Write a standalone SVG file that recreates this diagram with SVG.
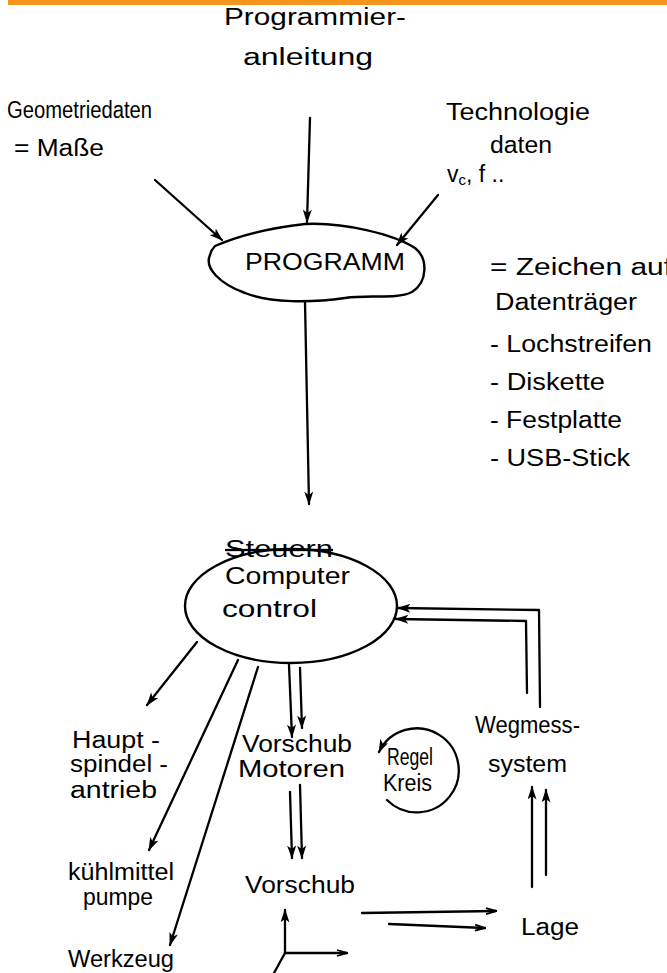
<svg xmlns="http://www.w3.org/2000/svg" width="667" height="973" viewBox="0 0 667 973">
<style>
text{font-family:"Liberation Sans","DejaVu Sans",sans-serif;fill:#000;font-size:23px}
.ln{fill:none;stroke:#000;stroke-width:2.3;stroke-linecap:round;stroke-linejoin:round}
.shape{fill:none;stroke:#000;stroke-width:2.4}
</style>
<defs>
<marker id="ah" viewBox="0 0 12 8" refX="11" refY="4" markerWidth="14" markerHeight="9" markerUnits="userSpaceOnUse" orient="auto">
<path d="M0,0 L12,4 L0,8 L3,4 z" fill="#000"/>
</marker>
<marker id="ao" viewBox="0 0 12 8" refX="11" refY="4" markerWidth="12" markerHeight="8" markerUnits="userSpaceOnUse" orient="auto">
<path d="M1,1 L11,4 L1,7" fill="none" stroke="#000" stroke-width="1.8"/>
</marker>
</defs>
<rect x="8" y="0" width="659" height="5" fill="#F7961E"/>
<g id="programmieranleitung">
<text x="224" y="25" textLength="182" lengthAdjust="spacingAndGlyphs" font-size="25">Programmier-</text>
<text x="243" y="65" textLength="130" lengthAdjust="spacingAndGlyphs" font-size="25">anleitung</text>
</g>
<g id="geometriedaten">
<text x="7" y="118" textLength="145" lengthAdjust="spacingAndGlyphs">Geometriedaten</text>
<text x="14" y="156" textLength="90" lengthAdjust="spacingAndGlyphs">= Maße</text>
</g>
<g id="technologiedaten">
<text x="446" y="120" textLength="144" lengthAdjust="spacingAndGlyphs">Technologie</text>
<text x="490" y="153" textLength="62" lengthAdjust="spacingAndGlyphs">daten</text>
<text x="447" y="182">v<tspan font-size="15" dy="3">c</tspan><tspan dy="-3">, f ..</tspan></text>
</g>
<g id="programm">
<path class="shape" d="M215,246 C240,235 270,228 305,224 C345,222 395,235 415,248 C428,258 428,282 412,292 C395,300 370,294 345,298 C310,303 270,303 245,293 C220,284 204,268 210,255 C211,251 213,248 215,246 Z"/>
<text x="245" y="270" textLength="160" lengthAdjust="spacingAndGlyphs" font-size="27">PROGRAMM</text>
</g>
<g id="datentraeger">
<text x="490" y="275" textLength="182" lengthAdjust="spacingAndGlyphs">= Zeichen auf</text>
<text x="495" y="310" textLength="142" lengthAdjust="spacingAndGlyphs">Datenträger</text>
<text x="490" y="352" textLength="162" lengthAdjust="spacingAndGlyphs">- Lochstreifen</text>
<text x="490" y="390" textLength="115" lengthAdjust="spacingAndGlyphs">- Diskette</text>
<text x="490" y="428" textLength="132" lengthAdjust="spacingAndGlyphs">- Festplatte</text>
<text x="490" y="466" textLength="140" lengthAdjust="spacingAndGlyphs">- USB-Stick</text>
</g>
<g id="computer-control">
<ellipse class="shape" cx="291" cy="606" rx="106" ry="57"/>
<text x="225" y="557" textLength="108" lengthAdjust="spacingAndGlyphs" text-decoration="line-through">Steuern</text>
<text x="225" y="584" textLength="125" lengthAdjust="spacingAndGlyphs" font-size="25">Computer</text>
<text x="222" y="617" textLength="95" lengthAdjust="spacingAndGlyphs" font-size="25">control</text>
</g>
<g id="hauptspindelantrieb">
<text x="72" y="748" textLength="88" lengthAdjust="spacingAndGlyphs" font-size="21">Haupt -</text>
<text x="70" y="772" textLength="98" lengthAdjust="spacingAndGlyphs" font-size="21">spindel -</text>
<text x="70" y="798" textLength="87" lengthAdjust="spacingAndGlyphs" font-size="21">antrieb</text>
</g>
<g id="kuehlmittelpumpe">
<text x="68" y="880" textLength="106" lengthAdjust="spacingAndGlyphs" font-size="20">kühlmittel</text>
<text x="83" y="905" textLength="70" lengthAdjust="spacingAndGlyphs" font-size="20">pumpe</text>
</g>
<g id="werkzeug">
<text x="68" y="967" textLength="106" lengthAdjust="spacingAndGlyphs" font-size="21">Werkzeug</text>
</g>
<g id="vorschubmotoren">
<text x="242" y="752" textLength="110" lengthAdjust="spacingAndGlyphs">Vorschub</text>
<text x="238" y="777" textLength="107" lengthAdjust="spacingAndGlyphs">Motoren</text>
</g>
<g id="regelkreis">
<path class="ln" d="M387,800 A42,42 0 1 0 379,752" marker-end="url(#ah)"/>
<text x="387" y="765" textLength="46" lengthAdjust="spacingAndGlyphs" font-size="18">Regel</text>
<text x="383" y="791" textLength="49" lengthAdjust="spacingAndGlyphs" font-size="18">Kreis</text>
</g>
<g id="wegmesssystem">
<text x="475" y="733" textLength="105" lengthAdjust="spacingAndGlyphs">Wegmess-</text>
<text x="488" y="772" textLength="79" lengthAdjust="spacingAndGlyphs">system</text>
</g>
<g id="vorschub">
<text x="245" y="893" textLength="110" lengthAdjust="spacingAndGlyphs">Vorschub</text>
</g>
<g id="lage">
<text x="521" y="935" textLength="58" lengthAdjust="spacingAndGlyphs" font-size="29">Lage</text>
</g>
<g id="connectors">
<line class="ln" x1="155" y1="180" x2="222" y2="240" marker-end="url(#ah)"/>
<line class="ln" x1="310" y1="118" x2="307" y2="222" marker-end="url(#ah)"/>
<line class="ln" x1="438" y1="195" x2="397" y2="245" marker-end="url(#ah)"/>
<line class="ln" x1="305" y1="302" x2="309" y2="504" marker-end="url(#ah)"/>
<line class="ln" x1="197" y1="642" x2="147" y2="705" marker-end="url(#ah)"/>
<line class="ln" x1="238" y1="660" x2="149" y2="850" marker-end="url(#ah)"/>
<line class="ln" x1="258" y1="667" x2="170" y2="945" marker-end="url(#ah)"/>
<line class="ln" x1="289" y1="665" x2="292" y2="737" marker-end="url(#ah)"/>
<line class="ln" x1="300" y1="668" x2="302" y2="728" marker-end="url(#ah)"/>
<line class="ln" x1="290" y1="792" x2="292" y2="858" marker-end="url(#ah)"/>
<line class="ln" x1="300" y1="785" x2="302" y2="858" marker-end="url(#ah)"/>
<line class="ln" x1="362" y1="913" x2="496" y2="911" marker-end="url(#ao)"/>
<line class="ln" x1="389" y1="924" x2="485" y2="928" marker-end="url(#ao)"/>
<line class="ln" x1="285" y1="953" x2="285" y2="910" marker-end="url(#ah)"/>
<line class="ln" x1="285" y1="953" x2="347" y2="953" marker-end="url(#ao)"/>
<line class="ln" x1="285" y1="953" x2="274" y2="973"/>
<line class="ln" x1="532" y1="887" x2="532" y2="787" marker-end="url(#ah)"/>
<line class="ln" x1="546" y1="875" x2="546" y2="790" marker-end="url(#ah)"/>
<polyline class="ln" points="540,707 539,610 398,608" marker-end="url(#ah)"/>
<polyline class="ln" points="527,693 526,621 396,619" marker-end="url(#ah)"/>
</g>
</svg>
